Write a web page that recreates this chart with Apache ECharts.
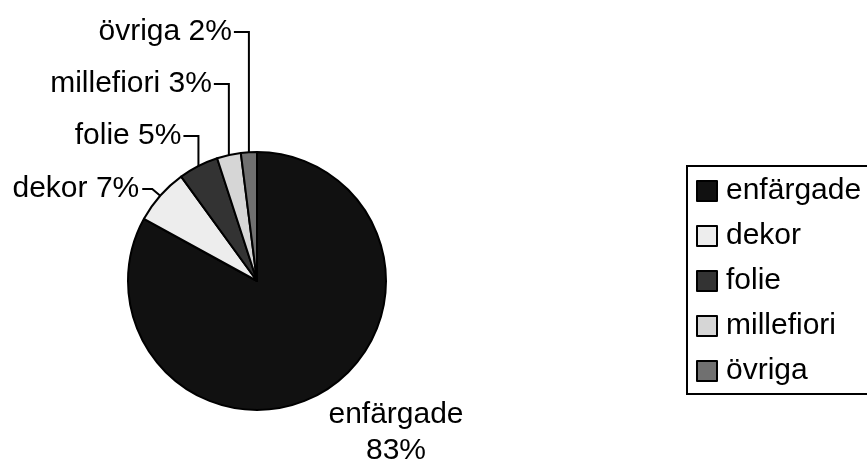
<!DOCTYPE html>
<html>
<head>
<meta charset="utf-8">
<script src="https://cdn.jsdelivr.net/npm/echarts@6/dist/echarts.min.js"></script>
<style>
html,body{margin:0;padding:0;background:#fff;}
#chart{width:867px;height:467px;}
</style>
</head>
<body>
<div id="chart"></div>
<script>
const categories = ['enfärgade', 'dekor', 'folie', 'millefiori', 'övriga'];
const values = [83, 7, 5, 3, 2];
const colors = ['#111111', '#ededed', '#333333', '#d6d6d6', '#707070'];

// label vertical positions (layout only)
const LABEL_Y = [433, 189, 136, 84, 32];
const FONT = '"Liberation Sans", Arial, sans-serif';

const data = categories.map((name, i) => ({
  name: name,
  value: values[i],
  itemStyle: { color: colors[i] },
  label: i === 0 ? { formatter: '{b}\n{c}%', lineHeight: 36 } : {},
  labelLine: { show: i !== 0 }
}));

const chart = echarts.init(document.getElementById('chart'), null, { renderer: 'canvas' });
chart.setOption({
  animation: false,
  backgroundColor: '#ffffff',
  legend: {
    orient: 'vertical',
    left: 687,
    top: 166,
    itemWidth: 20,
    itemHeight: 20,
    itemGap: 15,
    icon: 'rect',
    borderColor: '#000',
    borderWidth: 2,
    borderRadius: 0,
    padding: [10, 40, 8, 9],
    selectedMode: false,
    textStyle: { fontSize: 30, lineHeight: 30, color: '#000', fontFamily: FONT, padding: [0, 0, 0, 4] },
    data: categories
  },
  series: [{
    type: 'pie',
    center: [257, 281],
    radius: 129,
    startAngle: 90,
    clockwise: true,
    avoidLabelOverlap: false,
    itemStyle: { borderColor: '#000', borderWidth: 2 },
    label: {
      show: true,
      position: 'outside',
      formatter: '{b} {c}%',
      fontSize: 30,
      lineHeight: 30,
      color: '#000',
      fontFamily: FONT
    },
    labelLine: { show: true, lineStyle: { color: '#000', width: 2 }, length: 10, length2: 10 },
    labelLayout: function (p) {
      const i = p.dataIndex;
      const ly = LABEL_Y[i];
      if (i === 0) {
        return { x: 396, y: ly, align: 'center', verticalAlign: 'middle' };
      }
      const a = p.labelLinePoints && p.labelLinePoints[0];
      if (!a) return {};
      if (i === 1) {
        const ex = a[0] - 18;
        return {
          x: ex - 3, y: ly, align: 'right', verticalAlign: 'middle',
          labelLinePoints: [[a[0], a[1]], [a[0] - 8, ly], [ex, ly]]
        };
      }
      return {
        x: a[0] - 17, y: ly, align: 'right', verticalAlign: 'middle',
        labelLinePoints: [[a[0], a[1]], [a[0], ly], [a[0] - 15, ly]]
      };
    },
    data: data
  }]
});
</script>
</body>
</html>
